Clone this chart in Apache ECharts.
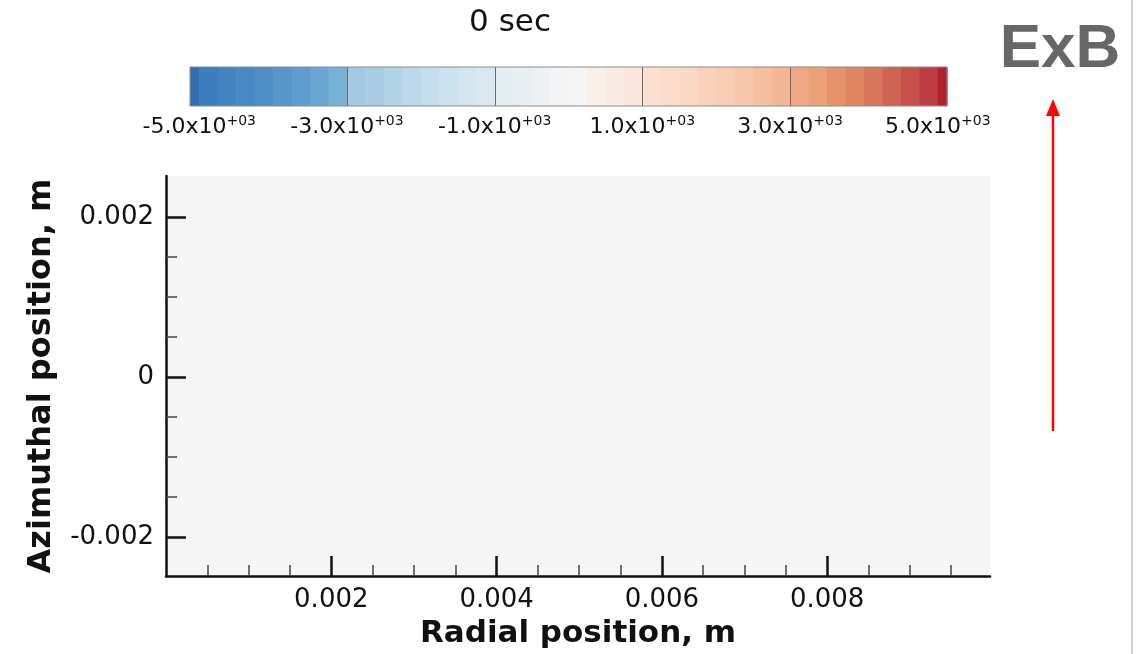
<!DOCTYPE html>
<html>
<head>
<meta charset="utf-8">
<title>0 sec</title>
<script src="https://cdn.jsdelivr.net/npm/echarts@6/dist/echarts.min.js"></script>
<style>
  html, body { margin: 0; padding: 0; background: #ffffff; }
  #chart { width: 1138px; height: 654px; }
</style>
</head>
<body>
<div id="chart"></div>
<script>
// Potential field snapshot, 0 sec: uniform over the whole domain
const radialEdges = [0, 0.0025, 0.005, 0.0075, 0.00997];      // m
const azimuthalEdges = [-0.00249, 0, 0.00251];                // m
const fieldValues = [                                           // rows: azimuthal cells, cols: radial cells
  [0, 0, 0, 0],
  [0, 0, 0, 0]
];

// Axis ticks
const radialMajorTicks = [0.002, 0.004, 0.006, 0.008];
const radialMinorTicks = [0.0005, 0.001, 0.0015, 0.0025, 0.003, 0.0035, 0.0045, 0.005, 0.0055,
  0.0065, 0.007, 0.0075, 0.0085, 0.009, 0.0095];
const azimuthalMajorTicks = [-0.002, 0, 0.002];
const azimuthalMinorTicks = [-0.0015, -0.001, -0.0005, 0.0005, 0.001, 0.0015];

// Contour levels and colour bar
const contourLevels = [-5000, -4750, -4500, -4250, -4000, -3750, -3500, -3250, -3000, -2750,
  -2500, -2250, -2000, -1750, -1500, -1250, -1000, -750, -500, -250, 0, 250, 500, 750, 1000,
  1250, 1500, 1750, 2000, 2250, 2500, 2750, 3000, 3250, 3500, 3750, 4000, 4250, 4500, 4750, 5000];
const colorbarTicks = [-5000, -3000, -1000, 1000, 3000, 5000];
const colorbarExtent = [-5125, 5125];
// below-range, 40 level bands, above-range
const bandColors = [
  '#2e6fb2',
  '#3b7dbf', '#4283c2', '#4789c4', '#4e8fc7', '#5696c9', '#5e9dcd', '#69a6d1', '#78b1d6',
  '#a3c9e2', '#aacde4', '#b3d3e7', '#bcd8ea', '#c5deed', '#cde2ef', '#d4e5f0', '#dae8f1',
  '#e3ecf1', '#e8eff2', '#edf1f3', '#f1f3f4',
  '#f5f5f5', '#f8efe9', '#f9ebe3', '#fae6dc',
  '#fbe0d2', '#fbdccb', '#fbd8c4', '#fad2bc', '#f9cdb3', '#f8c6a9', '#f6bf9f', '#f4b795',
  '#efa784', '#eca077', '#e6936b', '#e08562', '#d8765b', '#d06454', '#c8504b', '#c03c44',
  '#b2202e'
];

function bandIndex(v) {
  if (v < contourLevels[0]) return 0;
  for (let i = 0; i < contourLevels.length - 1; i++) {
    if (v >= contourLevels[i] && v < contourLevels[i + 1]) return i + 1;
  }
  return contourLevels.length;
}

const fieldCells = [];
fieldValues.forEach((row, j) => {
  row.forEach((v, i) => {
    fieldCells.push([radialEdges[i], radialEdges[i + 1], azimuthalEdges[j], azimuthalEdges[j + 1], v]);
  });
});

const colorbarBands = bandColors.map((c, i) => [
  i === 0 ? colorbarExtent[0] : contourLevels[i - 1],
  i === bandColors.length - 1 ? colorbarExtent[1] : contourLevels[i],
  i
]);
const colorbarDividers = [-3000, -1000, 1000, 3000];

const FONT = "'DejaVu Sans', sans-serif";
const INK = '#111111';

function expLabel(v) {
  if (v === 0) return '{m|0.0x10}{s|+00}';
  const e = Math.floor(Math.log10(Math.abs(v)));
  const m = v / Math.pow(10, e);
  const es = (e >= 0 ? '+' : '-') + String(Math.abs(e)).padStart(2, '0');
  return '{m|' + m.toFixed(1) + 'x10}{s|' + es + '}';
}

const chart = echarts.init(document.getElementById('chart'), null, { renderer: 'canvas' });

const majorAxisCommon = {
  type: 'value',
  z: 5,
  splitLine: { show: false },
  axisLine: { show: true, onZero: false, lineStyle: { color: INK, width: 2.5 } },
  axisTick: { show: true, inside: true, length: 20, lineStyle: { color: INK, width: 2.5 } },
  axisLabel: { show: true, color: INK, fontFamily: FONT, fontSize: 26 }
};
const minorAxisCommon = {
  type: 'value',
  z: 5,
  splitLine: { show: false },
  axisLine: { show: false, onZero: false },
  axisTick: { show: true, inside: true, length: 11, lineStyle: { color: '#444444', width: 1.5 } },
  axisLabel: { show: false }
};

const option = {
  animation: false,
  backgroundColor: '#ffffff',
  grid: [
    { left: 166, right: 148, top: 176, bottom: 76, containLabel: false },
    { left: 190, right: 191, top: 67, height: 39, show: true, borderColor: '#8c8c8c', borderWidth: 1,
      backgroundColor: 'transparent', z: 5 }
  ],
  xAxis: [
    Object.assign({}, majorAxisCommon, {
      gridIndex: 0, position: 'bottom', min: radialEdges[0], max: radialEdges[radialEdges.length - 1],
      name: 'Radial position, m', nameLocation: 'middle', nameGap: 40,
      nameTextStyle: { color: INK, fontFamily: FONT, fontSize: 31, fontWeight: 'bold' },
      axisTick: Object.assign({}, majorAxisCommon.axisTick, { customValues: radialMajorTicks }),
      axisLabel: Object.assign({}, majorAxisCommon.axisLabel, { customValues: radialMajorTicks, margin: 11 })
    }),
    Object.assign({}, minorAxisCommon, {
      gridIndex: 0, position: 'bottom', min: radialEdges[0], max: radialEdges[radialEdges.length - 1],
      axisTick: Object.assign({}, minorAxisCommon.axisTick, { customValues: radialMinorTicks })
    }),
    {
      type: 'value', gridIndex: 1, position: 'bottom', min: colorbarExtent[0], max: colorbarExtent[1],
      splitLine: { show: false }, axisLine: { show: false, onZero: false }, axisTick: { show: false },
      axisLabel: {
        show: true, customValues: colorbarTicks, margin: 8, formatter: expLabel,
        rich: {
          m: { color: INK, fontFamily: FONT, fontSize: 22 },
          s: { color: INK, fontFamily: FONT, fontSize: 14, padding: [0, 0, 12, 0] }
        }
      }
    }
  ],
  yAxis: [
    Object.assign({}, majorAxisCommon, {
      gridIndex: 0, position: 'left', min: azimuthalEdges[0], max: azimuthalEdges[azimuthalEdges.length - 1],
      name: 'Azimuthal position, m', nameLocation: 'middle', nameGap: 108,
      nameTextStyle: { color: INK, fontFamily: FONT, fontSize: 32, fontWeight: 'bold' },
      axisTick: Object.assign({}, majorAxisCommon.axisTick, { customValues: azimuthalMajorTicks }),
      axisLabel: Object.assign({}, majorAxisCommon.axisLabel, { customValues: azimuthalMajorTicks, margin: 12 })
    }),
    Object.assign({}, minorAxisCommon, {
      gridIndex: 0, position: 'left', min: azimuthalEdges[0], max: azimuthalEdges[azimuthalEdges.length - 1],
      axisTick: Object.assign({}, minorAxisCommon.axisTick, { customValues: azimuthalMinorTicks })
    }),
    { type: 'value', gridIndex: 1, min: 0, max: 1, show: false }
  ],
  series: [
    {
      // field contour cells
      type: 'custom',
      xAxisIndex: 0, yAxisIndex: 0,
      z: 1,
      clip: true,
      data: fieldCells,
      renderItem: function (params, api) {
        const a = api.coord([api.value(0), api.value(2)]);
        const b = api.coord([api.value(1), api.value(3)]);
        return {
          type: 'rect',
          shape: { x: a[0], y: b[1], width: b[0] - a[0] + 0.5, height: a[1] - b[1] + 0.5 },
          style: { fill: bandColors[bandIndex(api.value(4))] }
        };
      }
    },
    {
      // colour bar bands
      type: 'custom',
      xAxisIndex: 2, yAxisIndex: 2,
      z: 1,
      data: colorbarBands,
      renderItem: function (params, api) {
        const a = api.coord([api.value(0), 0]);
        const b = api.coord([api.value(1), 1]);
        return {
          type: 'rect',
          shape: { x: a[0], y: b[1], width: b[0] - a[0] + 0.6, height: a[1] - b[1] },
          style: { fill: bandColors[api.value(2)] }
        };
      }
    },
    {
      // colour bar dividers at labelled levels
      type: 'custom',
      xAxisIndex: 2, yAxisIndex: 2,
      z: 2,
      data: colorbarDividers,
      renderItem: function (params, api) {
        const a = api.coord([api.value(0), 0]);
        const b = api.coord([api.value(0), 1]);
        return {
          type: 'line',
          shape: { x1: Math.round(a[0]) + 0.5, y1: a[1], x2: Math.round(b[0]) + 0.5, y2: b[1] },
          style: { stroke: '#6a6a6a', lineWidth: 1 }
        };
      }
    }
  ],
  graphic: [
    {
      type: 'text', x: 510, y: 23,
      style: { text: '0 sec', fill: INK, font: '31px ' + FONT, textAlign: 'center', textVerticalAlign: 'middle' }
    },
    {
      type: 'text', x: 1060, y: 50,
      style: { text: 'ExB', fill: '#676767', font: "bold 62px 'Liberation Sans', Arial, sans-serif",
        textAlign: 'center', textVerticalAlign: 'middle' }
    },
    {
      type: 'line',
      shape: { x1: 1053, y1: 431, x2: 1053, y2: 112 },
      style: { stroke: '#ff0000', lineWidth: 2.5 }
    },
    {
      type: 'polygon',
      shape: { points: [[1053, 99], [1046, 116], [1060, 116]] },
      style: { fill: '#ff0000' }
    },
    {
      type: 'rect',
      shape: { x: 1131, y: 0, width: 2, height: 654 },
      style: { fill: '#cfcfcf' }
    }
  ]
};

chart.setOption(option);
</script>
</body>
</html>
